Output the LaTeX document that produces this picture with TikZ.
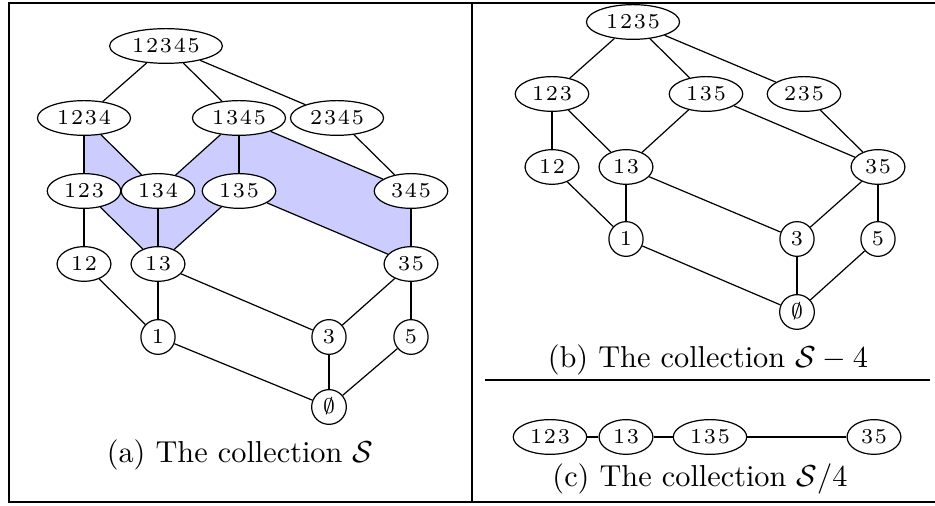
\documentclass[tikz,border=0pt]{standalone}
\usetikzlibrary{shapes.geometric,backgrounds}
\newcommand{\tsp}{\hspace{0.6pt}}
\tikzset{
  set/.style={draw,ellipse,inner xsep=2pt,inner ysep=1.8pt,font=\scriptsize,text height=4.5pt,text depth=0pt,fill=white},
  face/.style={fill=blue!20},
  rule/.style={line width=0.66pt},
  caption/.style={anchor=base}
}
\begin{document}
\begin{tikzpicture}[x=0.0116cm,y=-0.0116cm]
				\useasboundingbox (0,0) rectangle (935,506);
				% frame
				\draw [rule] (935,3) -- (9,3) -- (9,502.5) -- (935,502.5);
				\draw [rule] (472,3) -- (472,502.5);
				\draw [rule] (485,380) -- (930,380);
				% (a) the collection S
				\node [set] (a12345) at (166,46) {1\tsp2\tsp3\tsp4\tsp5};
				\node [set] (a1234) at (84,118) {1\tsp2\tsp3\tsp4};
				\node [set] (a1345) at (239,118) {1\tsp3\tsp4\tsp5};
				\node [set] (a2345) at (337,118) {2\tsp3\tsp4\tsp5};
				\node [set] (a123) at (84,191) {1\tsp2\tsp3};
				\node [set] (a134) at (158,191) {1\tsp3\tsp4};
				\node [set] (a135) at (239,191) {1\tsp3\tsp5};
				\node [set] (a345) at (411,191) {3\tsp4\tsp5};
				\node [set] (a12) at (84,264) {1\tsp2};
				\node [set] (a13) at (158,264) {1\tsp3};
				\node [set] (a35) at (411,264) {3\tsp5};
				\node [set] (a1) at (158,337) {1};
				\node [set] (a3) at (329,337) {3};
				\node [set] (a5) at (411,337) {5};
				\node [set] (a0) at (329,407) {$\emptyset$};
				\begin{pgfonlayer}{background}
					\fill [face] (a1234.center) -- (a123.center) -- (a13.center) -- (a134.center) -- cycle;
					\fill [face] (a1345.center) -- (a134.center) -- (a13.center) -- (a135.center) -- cycle;
					\fill [face] (a1345.center) -- (a135.center) -- (a35.center) -- (a345.center) -- cycle;
				\end{pgfonlayer}
				\draw (a12345) -- (a1234);
				\draw (a12345) -- (a1345);
				\draw (a12345) -- (a2345);
				\draw (a1234) -- (a123);
				\draw (a1234) -- (a134);
				\draw (a1345) -- (a134);
				\draw (a1345) -- (a135);
				\draw (a1345) -- (a345);
				\draw (a2345) -- (a345);
				\draw (a123) -- (a12);
				\draw (a123) -- (a13);
				\draw (a134) -- (a13);
				\draw (a135) -- (a13);
				\draw (a135) -- (a35);
				\draw (a345) -- (a35);
				\draw (a12) -- (a1);
				\draw (a13) -- (a1);
				\draw (a13) -- (a3);
				\draw (a35) -- (a3);
				\draw (a35) -- (a5);
				\draw (a1) -- (a0);
				\draw (a3) -- (a0);
				\draw (a5) -- (a0);
				\node [caption] (capa) at (240,463) {(a) The collection $\mathcal{S}$};
				% (b) the collection S-4
				\node [set] (b1235) at (633,22) {1\tsp2\tsp3\tsp5};
				\node [set] (b123) at (552,94) {1\tsp2\tsp3};
				\node [set] (b135) at (706,94) {1\tsp3\tsp5};
				\node [set] (b235) at (804,94) {2\tsp3\tsp5};
				\node [set] (b12) at (552,167) {1\tsp2};
				\node [set] (b13) at (626,167) {1\tsp3};
				\node [set] (b35) at (878,167) {3\tsp5};
				\node [set] (b1) at (626,239) {1};
				\node [set] (b3) at (797,239) {3};
				\node [set] (b5) at (878,239) {5};
				\node [set] (b0) at (797,312) {$\emptyset$};
				\draw (b1235) -- (b123);
				\draw (b1235) -- (b135);
				\draw (b1235) -- (b235);
				\draw (b123) -- (b12);
				\draw (b123) -- (b13);
				\draw (b135) -- (b13);
				\draw (b135) -- (b35);
				\draw (b235) -- (b35);
				\draw (b12) -- (b1);
				\draw (b13) -- (b1);
				\draw (b13) -- (b3);
				\draw (b35) -- (b3);
				\draw (b35) -- (b5);
				\draw (b1) -- (b0);
				\draw (b3) -- (b0);
				\draw (b5) -- (b0);
				\node [caption] (capb) at (708,368) {(b) The collection $\mathcal{S}-4$};
				% (c) the collection S/4
				\node [set] (c123) at (550,437) {1\tsp2\tsp3};
				\node [set] (c13) at (626,437) {1\tsp3};
				\node [set] (c135) at (710,437) {1\tsp3\tsp5};
				\node [set] (c35) at (874,437) {3\tsp5};
				\draw (c123) -- (c13);
				\draw (c13) -- (c135);
				\draw (c135) -- (c35);
				\node [caption] (capc) at (700,487) {(c) The collection $\mathcal{S}/4$};
			\end{tikzpicture}
\end{document}
